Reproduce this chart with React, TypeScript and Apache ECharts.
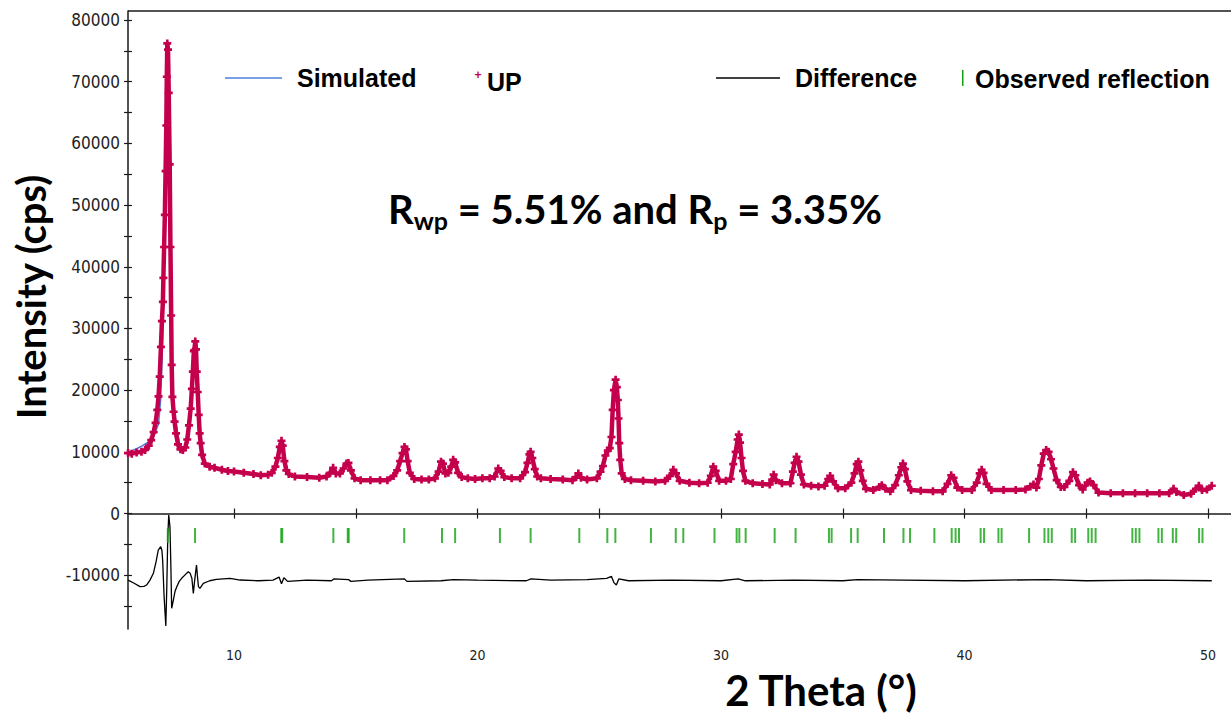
import React, { useEffect, useRef } from "react";
import * as echarts from "echarts";

// ---- data ----
const observed: [number, number][] = [
  [5.65, 9800], [5.8, 9700], [6.0, 9900], [6.2, 10000], [6.35, 10300], [6.5, 11000], [6.6, 11900],
  [6.7, 13200], [6.78, 14700], [6.85, 16800], [6.9, 19000], [6.95, 22200], [7.0, 27000], [7.04, 31200],
  [7.08, 34300], [7.1, 38200], [7.13, 43200], [7.16, 48400], [7.19, 55500], [7.22, 62900], [7.24, 70800],
  [7.26, 76200], [7.29, 75200], [7.32, 68200], [7.36, 56600], [7.39, 43200], [7.42, 32100], [7.44, 24100],
  [7.47, 18900], [7.52, 16500], [7.56, 14900], [7.62, 13000], [7.7, 11200], [7.8, 10400], [7.9, 10300],
  [8.0, 10700], [8.08, 12000], [8.15, 14300], [8.22, 17000], [8.27, 20200], [8.31, 23000], [8.35, 26300],
  [8.37, 26500], [8.41, 27900], [8.44, 26600], [8.47, 23000], [8.51, 19700], [8.55, 16000], [8.59, 13000],
  [8.63, 11400], [8.69, 9500], [8.8, 8100], [9.0, 7600], [9.2, 7400], [9.5, 7100], [9.75, 6900],
  [10.0, 6800], [10.4, 6600], [10.8, 6400], [11.1, 6200], [11.4, 6300], [11.55, 6600], [11.7, 7600],
  [11.8, 9000], [11.88, 10800], [11.95, 11800], [12.0, 11000], [12.07, 8500], [12.15, 7000], [12.25, 6400],
  [12.5, 6000], [13.0, 5900], [13.5, 5800], [13.8, 6000], [13.95, 6600], [14.07, 7400], [14.18, 6500],
  [14.35, 6500], [14.5, 7300], [14.62, 8100], [14.7, 8200], [14.8, 7000], [14.95, 5700], [15.2, 5400],
  [15.6, 5400], [16.0, 5400], [16.3, 5400], [16.55, 6100], [16.7, 7000], [16.82, 8500], [16.92, 9800],
  [17.0, 10800], [17.06, 10400], [17.13, 8500], [17.22, 6600], [17.4, 5600], [17.7, 5500], [18.0, 5500],
  [18.25, 5700], [18.4, 6800], [18.5, 8400], [18.58, 8100], [18.68, 6500], [18.8, 6600], [18.92, 7600],
  [19.0, 8700], [19.08, 8300], [19.2, 6600], [19.35, 5900], [19.6, 5700], [19.9, 5600], [20.2, 5700],
  [20.5, 5700], [20.7, 6000], [20.85, 7300], [20.95, 6900], [21.1, 5900], [21.4, 5700], [21.75, 5700],
  [21.95, 6700], [22.05, 8200], [22.13, 9600], [22.18, 10000], [22.25, 9000], [22.35, 7200], [22.45, 6000],
  [22.6, 5700], [23.0, 5600], [23.5, 5500], [23.9, 5400], [24.05, 5900], [24.14, 6500], [24.25, 5800],
  [24.5, 5500], [24.9, 5700], [25.05, 6800], [25.15, 7700], [25.25, 9400], [25.35, 10200], [25.43, 10600],
  [25.5, 12400], [25.55, 16800], [25.6, 20000], [25.67, 21700], [25.72, 20500], [25.76, 18400], [25.79, 15400],
  [25.82, 11400], [25.86, 8700], [25.92, 6500], [26.05, 5600], [26.3, 5400], [26.8, 5300], [27.3, 5200],
  [27.7, 5300], [27.9, 6100], [28.04, 7100], [28.15, 6500], [28.3, 5300], [28.7, 5000], [29.1, 4900],
  [29.45, 5000], [29.58, 6100], [29.68, 7600], [29.78, 6900], [29.92, 5300], [30.2, 5300], [30.4, 5600],
  [30.5, 8000], [30.6, 10000], [30.68, 12000], [30.73, 12800], [30.78, 11500], [30.84, 9000], [30.9, 6900],
  [31.0, 5300], [31.3, 4900], [31.7, 4800], [32.0, 4700], [32.1, 5500], [32.16, 6300], [32.25, 5400],
  [32.5, 4900], [32.85, 4900], [32.95, 6800], [33.02, 8200], [33.1, 9200], [33.18, 8400], [33.28, 6300],
  [33.4, 4700], [33.7, 4500], [34.0, 4400], [34.25, 4500], [34.4, 5600], [34.48, 6100], [34.6, 5200],
  [34.8, 4100], [35.1, 4100], [35.35, 5000], [35.48, 6500], [35.57, 8000], [35.64, 8400], [35.72, 7000],
  [35.82, 5300], [35.95, 4000], [36.25, 3800], [36.5, 4300], [36.6, 4600], [36.75, 4000], [36.95, 3600],
  [37.15, 4600], [37.3, 6200], [37.4, 7500], [37.47, 8100], [37.55, 7200], [37.65, 5200], [37.8, 3800],
  [38.2, 3700], [38.7, 3600], [39.1, 3600], [39.3, 4800], [39.45, 6200], [39.55, 5800], [39.7, 4200],
  [39.9, 3800], [40.3, 3800], [40.5, 5000], [40.62, 6500], [40.7, 7100], [40.78, 6600], [40.9, 4800],
  [41.1, 3800], [41.6, 3800], [42.1, 3800], [42.5, 3900], [42.7, 4400], [42.83, 4700], [42.95, 4200],
  [43.05, 5600], [43.15, 7800], [43.25, 9700], [43.35, 10300], [43.45, 10000], [43.55, 8800], [43.65, 7300],
  [43.78, 5400], [43.95, 4300], [44.1, 4300], [44.3, 5300], [44.45, 6700], [44.55, 6200], [44.7, 4600],
  [44.85, 3900], [45.05, 5000], [45.15, 5200], [45.3, 4600], [45.5, 3400], [46.0, 3300], [46.5, 3300],
  [47.0, 3300], [47.5, 3300], [48.0, 3300], [48.4, 3300], [48.58, 4000], [48.7, 3500], [49.0, 3000],
  [49.3, 3200], [49.5, 4000], [49.62, 4500], [49.75, 3800], [49.95, 3900], [50.15, 4500],
];

// simulated profile where it visibly differs from the observed one (low angles)
const simulatedLowAngle: [number, number][] = [
  [5.65, 9900], [6.0, 10500], [6.2, 10900], [6.4, 11400], [6.6, 11700], [6.7, 12400], [6.8, 13500],
  [6.9, 14500], [6.99, 18500], [7.07, 28000], [7.12, 40000], [7.15, 50000], [7.2, 66000], [7.23, 73000],
  [7.27, 73000], [7.3, 66000], [7.33, 53000], [7.37, 38000], [7.42, 31000], [7.44, 28500], [7.5, 19500],
  [7.56, 16500], [7.65, 13800], [7.8, 10600], [7.9, 10300], [8.0, 10500], [8.12, 12000], [8.2, 15500],
  [8.27, 20800], [8.33, 25000], [8.38, 27000], [8.42, 25500], [8.46, 21000], [8.54, 17200], [8.6, 14500],
  [8.7, 10500], [8.8, 8300],
];
const SIM_SPLIT = 8.9; // above this angle the simulated curve overlays the observed one

const difference: [number, number][] = [
  [5.65, -10800], [5.9, -11300], [6.14, -11860], [6.3, -11800], [6.41, -11590], [6.55, -10800],
  [6.69, -9690], [6.8, -7800], [6.89, -5920], [6.99, -5380], [7.04, -6000], [7.07, -7540], [7.13, -13490],
  [7.2, -18240], [7.24, -12000], [7.28, -3760], [7.32, -240], [7.37, -2140], [7.41, -9000], [7.44, -15370],
  [7.51, -14020], [7.58, -12600], [7.65, -11860], [7.75, -11000], [7.85, -10500], [8.0, -9900], [8.12, -9430],
  [8.2, -9700], [8.27, -10500], [8.33, -12940], [8.38, -11000], [8.46, -8350], [8.5, -10200], [8.54, -11860],
  [8.6, -12130], [8.74, -11310], [9.0, -10900], [9.28, -10670], [9.84, -10500], [10.25, -10780],
  [11.0, -10900], [11.6, -10800], [11.85, -10300], [11.95, -11400], [12.05, -10400], [12.2, -11000],
  [13.0, -10800], [14.0, -10900], [14.1, -10600], [14.7, -10700], [14.8, -11000], [15.5, -10800],
  [17.0, -10600], [17.1, -11000], [18.5, -10900], [19.0, -10700], [20.0, -10800], [22.0, -10900],
  [22.2, -10600], [23.0, -10800], [24.5, -10700], [25.3, -10500], [25.5, -10200], [25.6, -11200],
  [25.7, -11600], [25.8, -10600], [26.2, -10900], [28.0, -10800], [30.0, -10900], [30.7, -10600],
  [31.0, -10900], [33.0, -10800], [35.0, -10900], [35.6, -10700], [37.5, -10800], [40.0, -10900],
  [43.4, -10700], [45.0, -10900], [47.5, -10800], [50.15, -10900],
];

const reflections: number[] = [
  7.28, 8.4, 11.94, 11.98, 14.08, 14.67, 14.71, 16.99, 18.54, 19.08, 20.92, 22.18, 24.18, 25.33, 25.66,
  27.12, 28.14, 28.45, 29.73, 30.64, 30.75, 31.01, 32.2, 33.06, 34.43, 34.54, 35.34, 35.61, 36.69, 37.49,
  37.76, 38.76, 39.47, 39.63, 39.77, 40.66, 40.8, 41.39, 41.52, 42.65, 43.28, 43.44, 43.58, 44.4, 44.54,
  45.08, 45.22, 45.38, 46.89, 47.03, 47.18, 47.96, 48.1, 48.55, 48.69, 49.63, 49.77,
];
const REFLECTION_LEVEL = -3560;

const xTickValues = [10, 15, 20, 25, 30, 35, 40, 45, 50];
const xLabelValues = [10, 20, 30, 40, 50];
const yTickValues = [-15000, -10000, -5000, 0, 5000, 10000, 15000, 20000, 25000, 30000, 35000, 40000, 45000, 50000, 55000, 60000, 65000, 70000, 75000, 80000];
const yLabelValues = [-10000, 0, 10000, 20000, 30000, 40000, 50000, 60000, 70000, 80000];

const X_MIN = 5.647;
const X_MAX = 50.94;
const Y_MIN = -18720;
const Y_MAX = 81460;

const OBS_COLOR = "#C4004C";
const SIM_COLOR = "#4F7FDB";
const DIFF_COLOR = "#000000";
const REF_COLOR = "#12A212";

const PLUS = "path://M2,0h2v2h2v2h-2v2h-2v-2h-2v-2h2z";
const LABEL_FONT = "'DejaVu Sans Condensed', 'DejaVu Sans', sans-serif";
const TITLE_FONT = "Lato, 'Open Sans', sans-serif";
const LEGEND_FONT = "'Liberation Sans', Arial, sans-serif";

export default function App() {
  const ref = useRef<HTMLDivElement>(null);
  useEffect(() => {
    if (!ref.current) return;
    const chart = echarts.init(ref.current, undefined, { renderer: "svg" });
    const simulated = [...simulatedLowAngle, ...observed.filter((p) => p[0] > SIM_SPLIT)];
    const axisLine = { show: true, lineStyle: { color: "#1a1a1a", width: 1.5 } };
    const plain = (v: number) => String(Math.round(v));
    chart.setOption({
      animation: false,
      backgroundColor: "#ffffff",
      grid: { left: 128, right: 0, top: 11, bottom: 87, containLabel: false },
      xAxis: [
        {
          type: "value", min: X_MIN, max: X_MAX, position: "bottom",
          axisLine,
          axisTick: { show: true, inside: false, length: 5, customValues: xTickValues, lineStyle: { color: "#1a1a1a", width: 1.2 } },
          axisLabel: { show: true, customValues: xLabelValues, formatter: plain, margin: 19, fontSize: 14, fontFamily: LABEL_FONT, color: "#222" },
          splitLine: { show: false },
        },
        {
          type: "value", min: X_MIN, max: X_MAX, position: "bottom",
          axisLine: { show: false },
          axisTick: { show: true, inside: true, length: 5, customValues: xTickValues, lineStyle: { color: "#1a1a1a", width: 1.2 } },
          axisLabel: { show: false },
          splitLine: { show: false },
        },
      ],
      yAxis: [
        {
          type: "value", min: Y_MIN, max: Y_MAX, position: "left",
          axisLine,
          axisTick: { show: true, inside: false, length: 4, customValues: yTickValues, lineStyle: { color: "#1a1a1a", width: 1.2 } },
          axisLabel: { show: true, customValues: yLabelValues, formatter: plain, margin: 8, fontSize: 17, fontFamily: LABEL_FONT, color: "#222" },
          splitLine: { show: false },
        },
        {
          type: "value", min: Y_MIN, max: Y_MAX, position: "left",
          axisLine: { show: false },
          axisTick: { show: true, inside: true, length: 4, customValues: yTickValues, lineStyle: { color: "#1a1a1a", width: 1.2 } },
          axisLabel: { show: false },
          splitLine: { show: false },
        },
      ],
      series: [
        {
          name: "Simulated", type: "line", data: simulated, showSymbol: false, z: 3,
          lineStyle: { color: SIM_COLOR, width: 1.5 },
        },
        {
          name: "UP", type: "line", data: observed, z: 4,
          symbol: PLUS, symbolSize: 8, showAllSymbol: true,
          itemStyle: { color: OBS_COLOR }, lineStyle: { color: OBS_COLOR, width: 4.5 },
        },
        {
          name: "Difference", type: "line", data: difference, showSymbol: false, z: 3,
          lineStyle: { color: DIFF_COLOR, width: 1.3 },
        },
        {
          name: "Observed reflection", type: "scatter", z: 3,
          data: reflections.map((x) => [x, REFLECTION_LEVEL]),
          symbol: "rect", symbolSize: [2, 15], itemStyle: { color: REF_COLOR },
        },
      ],
      graphic: [
        { type: "line", shape: { x1: 128, y1: 11, x2: 1231, y2: 11 }, style: { stroke: "#1a1a1a", lineWidth: 1.5 } },
        // legend
        { type: "line", shape: { x1: 225, y1: 78, x2: 282, y2: 78 }, style: { stroke: SIM_COLOR, lineWidth: 1.5 } },
        { type: "text", x: 297, y: 78, style: { text: "Simulated", font: `bold 25px ${LEGEND_FONT}`, fill: "#000", verticalAlign: "middle" } },
        { type: "text", x: 478, y: 75, style: { text: "+", font: `bold 12px ${LEGEND_FONT}`, fill: OBS_COLOR, align: "center", verticalAlign: "middle" } },
        { type: "text", x: 487, y: 82, style: { text: "UP", font: `bold 25px ${LEGEND_FONT}`, fill: "#000", verticalAlign: "middle" } },
        { type: "line", shape: { x1: 716, y1: 78, x2: 780, y2: 78 }, style: { stroke: "#000", lineWidth: 1.5 } },
        { type: "text", x: 795, y: 78, style: { text: "Difference", font: `bold 25px ${LEGEND_FONT}`, fill: "#000", verticalAlign: "middle" } },
        { type: "rect", shape: { x: 962, y: 70, width: 1.5, height: 16 }, style: { fill: REF_COLOR } },
        { type: "text", x: 975, y: 79, style: { text: "Observed reflection", font: `bold 25px ${LEGEND_FONT}`, fill: "#000", verticalAlign: "middle" } },
        // annotation
        {
          type: "text", x: 388, y: 209,
          style: {
            text: "{r|R}{s|wp}{r| = 5.51% and R}{s|p}{r| = 3.35%}",
            verticalAlign: "middle",
            rich: {
              r: { font: `bold 40px ${TITLE_FONT}`, fill: "#000", lineHeight: 46, verticalAlign: "middle" },
              s: { font: `bold 25px ${TITLE_FONT}`, fill: "#000", lineHeight: 26, verticalAlign: "bottom" },
            },
          },
        },
        // axis titles
        {
          type: "text", x: 31, y: 297, rotation: Math.PI / 2,
          style: { text: "Intensity (cps)", font: `bold 40px ${TITLE_FONT}`, fill: "#000", align: "center", verticalAlign: "middle" },
        },
        {
          type: "text", x: 821, y: 690,
          style: { text: "2 Theta (°)", font: `bold 42px ${TITLE_FONT}`, fill: "#000", align: "center", verticalAlign: "middle" },
        },
      ],
    });
    return () => chart.dispose();
  }, []);
  return <div ref={ref} style={{ position: "fixed", left: 0, top: 0, width: 1231, height: 716, background: "#fff" }} />;
}
